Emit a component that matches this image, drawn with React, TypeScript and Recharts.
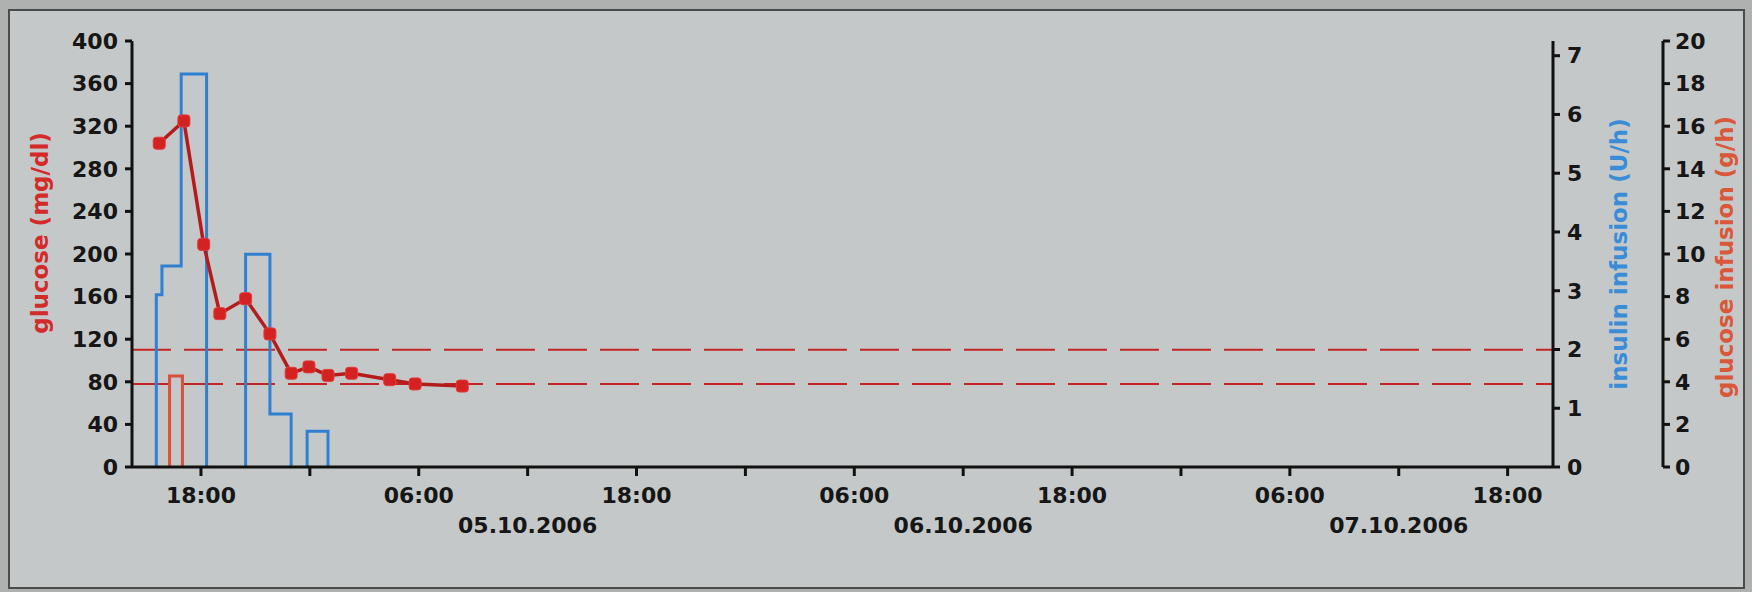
import React from "react";
import { ComposedChart, Line, XAxis, YAxis, ReferenceLine } from "recharts";

// hours counted from 04.10.2006 00:00
const xDomain = [14.2, 92.5];
const xTicks = [18, 24, 30, 36, 42, 48, 54, 60, 66, 72, 78, 84, 90];
const xTimeLabels = ["18:00", "", "06:00", "", "18:00", "", "06:00", "", "18:00", "", "06:00", "", "18:00"];
const xDateLabels = ["", "", "", "05.10.2006", "", "", "", "06.10.2006", "", "", "", "07.10.2006", ""];

const glucoseTicks = [0, 40, 80, 120, 160, 200, 240, 280, 320, 360, 400];
const insulinTicks = [0, 1, 2, 3, 4, 5, 6, 7];
const infusionTicks = [0, 2, 4, 6, 8, 10, 12, 14, 16, 18, 20];

const glucoseHours = [15.7, 17.06, 18.15, 19.04, 20.46, 21.8, 22.97, 23.95, 25.0, 26.3, 28.4, 29.8, 32.4];
const glucoseValues = [304, 325, 209, 144, 158, 125, 88, 94, 86, 88, 82, 78, 76];

// step series, null breaks the line
const insulinHours = [15.54, 15.54, 15.85, 16.91, 18.31, 19.4, 20.46, 20.46, 21.8, 22.97, 23.4, 23.85, 23.85, 25.0];
const insulinValues = [0, 2.93, 3.42, 6.69, 0, null, 0, 3.62, 0.9, 0, null, 0, 0.61, 0];

const infusionHours = [16.27, 16.27, 16.98];
const infusionValues = [0, 4.27, 0];

const targetRange = [78, 110];

const glucoseData = glucoseHours.map((t, i) => ({ t, v: glucoseValues[i] }));
const insulinData = insulinHours.map((t, i) => ({ t, v: insulinValues[i] }));
const infusionData = infusionHours.map((t, i) => ({ t, v: infusionValues[i] }));

const font = "'DejaVu Sans', Verdana, sans-serif";
const tickStyle = { fontFamily: font, fontWeight: 700, fontSize: 22, fill: "#161616" };
const axisLine = { stroke: "#111", strokeWidth: 3 };

const TimeTick = (props: any) => {
  const { x, y, payload } = props;
  const i = xTicks.indexOf(payload.value);
  return (
    <g style={tickStyle as any}>
      <text x={x} y={y + 25} textAnchor="middle" fill="#161616">
        {xTimeLabels[i]}
      </text>
      <text x={x} y={y + 55} textAnchor="middle" fill="#161616">
        {xDateLabels[i]}
      </text>
    </g>
  );
};

const axisTitle = (text: string, color: string, dx: number, dy: number) => (props: any) => {
  const vb = props.viewBox;
  const cx = vb.x + dx;
  const cy = vb.y + vb.height / 2 + dy;
  return (
    <text
      x={cx}
      y={cy}
      transform={`rotate(-90, ${cx}, ${cy})`}
      textAnchor="middle"
      dominantBaseline="central"
      fill={color}
      style={{ fontFamily: font, fontWeight: 700, fontSize: 23 }}
    >
      {text}
    </text>
  );
};

const SquareDot = (props: any) => {
  const { cx, cy, index } = props;
  if (cx == null || cy == null) return <g key={index} />;
  return <rect key={index} x={cx - 6} y={cy - 6} width={12} height={12} rx={3} fill="#d42222" stroke="#e23c3c" strokeWidth={1} />;
};

export default function App() {
  return (
    <div style={{ position: "absolute", left: 0, top: 0, width: 1752, height: 592, background: "#aeb1b0" }}>
      <div
        style={{
          position: "absolute",
          left: 8,
          top: 9,
          width: 1733,
          height: 576,
          background: "#c5c8c9",
          border: "2px solid #4a4c4c",
        }}
      />
      <div style={{ position: "absolute", left: 0, top: 0 }}>
        <ComposedChart width={1752} height={592} margin={{ top: 41, right: 13, bottom: 45, left: 10 }}>
          <XAxis
            xAxisId="x"
            dataKey="t"
            type="number"
            domain={xDomain}
            ticks={xTicks}
            allowDataOverflow
            height={80}
            tickSize={9}
            axisLine={axisLine}
            tickLine={axisLine}
            tick={<TimeTick />}
          />
          <YAxis
            yAxisId="g"
            domain={[0, 400]}
            ticks={glucoseTicks}
            width={122}
            tickSize={7}
            tickMargin={7}
            axisLine={axisLine}
            tickLine={axisLine}
            tick={tickStyle}
            label={axisTitle("glucose (mg/dl)", "#d42a2a", 30, -21)}
          />
          <YAxis
            yAxisId="r1"
            orientation="right"
            domain={[0, 7.25]}
            ticks={insulinTicks}
            allowDataOverflow
            width={110}
            tickSize={7}
            tickMargin={7}
            axisLine={axisLine}
            tickLine={axisLine}
            tick={tickStyle}
            label={axisTitle("insulin infusion (U/h)", "#3a8cd6", 66, 0)}
          />
          <YAxis
            yAxisId="r2"
            orientation="right"
            domain={[0, 20]}
            ticks={infusionTicks}
            width={76}
            tickSize={7}
            tickMargin={5}
            axisLine={axisLine}
            tickLine={axisLine}
            tick={tickStyle}
            label={axisTitle("glucose infusion (g/h)", "#d9573a", 62, 3)}
          />
          {targetRange.map((v) => (
            <ReferenceLine
              key={v}
              xAxisId="x"
              yAxisId="g"
              y={v}
              stroke="#c42424"
              strokeWidth={2}
              strokeDasharray="39 13"
            />
          ))}
          <Line
            xAxisId="x"
            yAxisId="r2"
            data={infusionData}
            dataKey="v"
            type="stepAfter"
            stroke="#d8503a"
            strokeWidth={3}
            dot={false}
            isAnimationActive={false}
          />
          <Line
            xAxisId="x"
            yAxisId="r1"
            data={insulinData}
            dataKey="v"
            type="stepAfter"
            stroke="#2f80d2"
            strokeWidth={3}
            dot={false}
            isAnimationActive={false}
          />
          <Line
            xAxisId="x"
            yAxisId="g"
            data={glucoseData}
            dataKey="v"
            type="linear"
            stroke="#b41c1c"
            strokeWidth={3.5}
            dot={<SquareDot />}
            isAnimationActive={false}
          />
        </ComposedChart>
      </div>
    </div>
  );
}
